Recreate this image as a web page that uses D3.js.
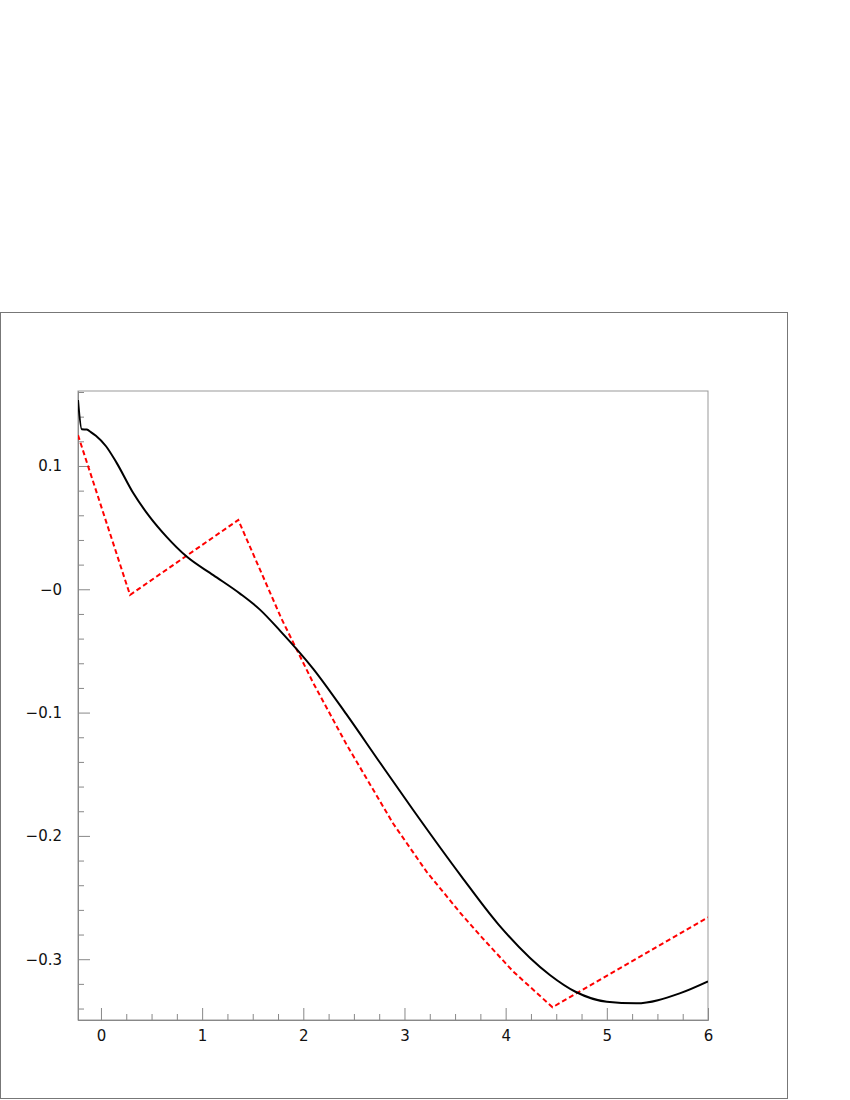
<!DOCTYPE html>
<html>
<head>
<meta charset="utf-8">
<script src="https://cdn.jsdelivr.net/npm/d3@7"></script>
<style>
    body { margin: 0; background: #fff; }
    svg text { font-family: 'DejaVu Sans', sans-serif; font-size: 15px; fill: #111; }
</style>
</head>
<body>
<div id="chart"></div>
<script>
// solid black curve
const curveX = [-0.227, -0.19, -0.14, -0.10, -0.05, 0.05, 0.155, 0.319, 0.484, 0.649, 0.847, 1.11, 1.374, 1.571,
    1.769, 2.098, 2.427, 2.757, 3.086, 3.564, 3.926, 4.437, 4.69, 5.0, 5.29, 5.72, 6.0]
const curveY = [0.1535, 0.1298, 0.1295, 0.1275, 0.1245, 0.116, 0.1025, 0.078, 0.0585, 0.0425, 0.0265, 0.0115, -0.0035, -0.0165,
    -0.0335, -0.0645, -0.1015, -0.1405, -0.179, -0.233, -0.2715, -0.3128, -0.3264, -0.3345, -0.3358, -0.3277, -0.318]

// red dashed line
const dashX = [-0.227, 0.287, 1.357, 1.785, 2.098, 2.428, 2.888, 3.218, 3.547, 3.778, 4.075, 4.463, 6.0]
const dashY = [0.125, -0.0046, 0.0562, -0.024, -0.076, -0.126, -0.19, -0.229, -0.262, -0.2835, -0.31, -0.339, -0.266]

// ticks
const xMajor = [0, 1, 2, 3, 4, 5, 6]
const xLabels = ['0', '1', '2', '3', '4', '5', '6']
const yMajor = [0.1, 0, -0.1, -0.2, -0.3]
const yLabels = ['0.1', '\u22120', '\u22120.1', '\u22120.2', '\u22120.3']

const width = 850
const height = 1100
const plot = { left: 78, right: 708, top: 391, bottom: 1020 }

const svg = d3.select('#chart')
    .append('svg')
    .attr('width', width)
    .attr('height', height)

// outer pad frame
svg.append('rect')
    .attr('x', 0.5)
    .attr('y', 312.5)
    .attr('width', 787)
    .attr('height', 786)
    .attr('fill', 'none')
    .attr('stroke', '#777')
    .attr('stroke-width', 1)

const x = d3.scaleLinear().domain([-0.227, 6]).range([plot.left, plot.right])
const y = d3.scaleLinear().domain([-0.3493, 0.1608]).range([plot.bottom, plot.top])

// plot frame
svg.append('rect')
    .attr('x', plot.left)
    .attr('y', plot.top)
    .attr('width', plot.right - plot.left)
    .attr('height', plot.bottom - plot.top)
    .attr('fill', 'none')
    .attr('stroke', '#999')

const xMinor = d3.range(0, 6.001, 0.25).filter(v => Math.abs(v - Math.round(v)) > 1e-6)
const yMinor = d3.range(-0.34, 0.161, 0.02).filter(v => Math.abs(v * 10 - Math.round(v * 10)) > 1e-6)

function styleAxis(g) {
    g.selectAll('.domain').attr('stroke', '#888')
    g.selectAll('.tick line').attr('stroke', '#888')
    g.selectAll('.tick text').attr('fill', '#111')
}

svg.append('g')
    .attr('transform', `translate(0,${plot.bottom})`)
    .call(d3.axisBottom(x).tickValues(xMinor).tickSize(-6).tickFormat('').tickSizeOuter(0))
    .call(styleAxis)
svg.append('g')
    .attr('transform', `translate(0,${plot.bottom})`)
    .call(d3.axisBottom(x).tickValues(xMajor).tickSize(-12).tickPadding(10).tickSizeOuter(0)
        .tickFormat((d, i) => xLabels[i]))
    .call(styleAxis)

svg.append('g')
    .attr('transform', `translate(${plot.left},0)`)
    .call(d3.axisLeft(y).tickValues(yMinor).tickSize(-6).tickFormat('').tickSizeOuter(0))
    .call(styleAxis)
svg.append('g')
    .attr('transform', `translate(${plot.left},0)`)
    .call(d3.axisLeft(y).tickValues(yMajor).tickSize(-12).tickPadding(16).tickSizeOuter(0)
        .tickFormat((d, i) => yLabels[i]))
    .call(styleAxis)

svg.append('clipPath')
    .attr('id', 'clip')
    .append('rect')
    .attr('x', plot.left)
    .attr('y', plot.top)
    .attr('width', plot.right - plot.left)
    .attr('height', plot.bottom - plot.top)

const line = d3.line()
    .x(d => x(d[0]))
    .y(d => y(d[1]))

svg.append('path')
    .datum(dashX.map((v, i) => [v, dashY[i]]))
    .attr('clip-path', 'url(#clip)')
    .attr('d', line)
    .attr('fill', 'none')
    .attr('stroke', '#ff0000')
    .attr('stroke-width', 2)
    .attr('stroke-dasharray', '5,3')

svg.append('path')
    .datum(curveX.map((v, i) => [v, curveY[i]]))
    .attr('clip-path', 'url(#clip)')
    .attr('d', line.curve(d3.curveMonotoneX))
    .attr('fill', 'none')
    .attr('stroke', '#000')
    .attr('stroke-width', 2)
</script>
</body>
</html>
